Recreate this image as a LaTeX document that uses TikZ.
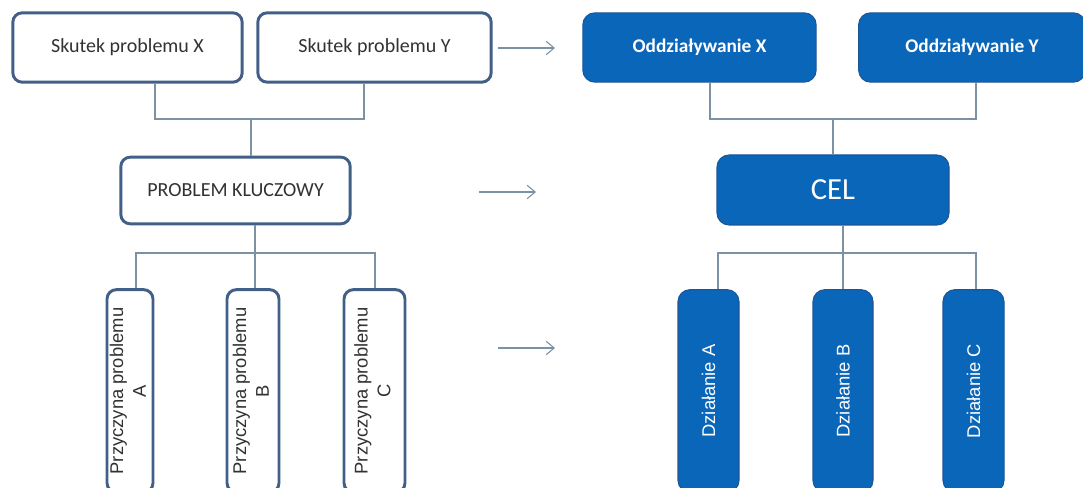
\documentclass[tikz,border=0pt]{standalone}
\usepackage{fontspec}
\usepackage{graphicx}
\setmainfont{Carlito}
\newfontfamily\arialf{Liberation Sans}
\usetikzlibrary{arrows.meta}
\definecolor{ramka}{RGB}{65,95,135}
\definecolor{niebieski}{RGB}{10,102,184}
\definecolor{niebieskiram}{RGB}{30,85,150}
\definecolor{linia}{RGB}{125,145,165}
\definecolor{tekst}{RGB}{50,50,50}
\begin{document}
\begin{tikzpicture}[x=0.75pt,y=-0.75pt,
  problem/.style={draw=ramka,line width=2.2pt,rounded corners=7pt,fill=white,
    inner sep=0pt,text=tekst,font=\fontsize{15}{17}\selectfont},
  cel/.style={draw=niebieskiram,line width=0.8pt,rounded corners=9pt,fill=niebieski,
    inner sep=0pt,text=white,font=\fontsize{14.5}{17}\selectfont\bfseries},
  pion/.style={minimum height=152pt,font=\arialf\fontsize{13.8}{17}\selectfont},
  link/.style={draw=linia,line width=0.8pt},
  arr/.style={draw=linia,line width=0.8pt,-{Straight Barb[length=6pt,width=10pt]}}]
  \useasboundingbox (0,0) rectangle (1083,488);
  \clip (0,0) rectangle (1083,488);
  % lewa strona: drzewo problemow
  \node[problem,minimum width=172pt,minimum height=52pt] (sx) at (127.5,47.5) {Skutek problemu X};
  \node[problem,minimum width=175pt,minimum height=52pt] (sy) at (374.5,47.5) {Skutek problemu Y};
  \node[problem,minimum width=172pt,minimum height=50pt] (pk) at (235.5,190.5) {PROBLEM KLUCZOWY};
  \node[problem,pion,minimum width=34.5pt] (pa) at (130,391) {\rotatebox{90}{\begin{tabular}{@{}c@{}}Przyczyna problemu\\A\end{tabular}}};
  \node[problem,pion,minimum width=39pt] (pb) at (253,391) {\rotatebox{90}{\begin{tabular}{@{}c@{}}Przyczyna problemu\\B\end{tabular}}};
  \node[problem,pion,minimum width=45.75pt] (pc) at (374.5,391) {\rotatebox{90}{\begin{tabular}{@{}c@{}}Przyczyna problemu\\C\end{tabular}}};
  \coordinate (j1) at (251,119);
  \coordinate (j2) at (255,253);
  \draw[link] (sx.south -| 155,0) |- (j1) -| (sy.south -| 364,0);
  \draw[link] (j1) -- (pk.north -| j1);
  \draw[link] (pk.south -| j2) -- (pb.north -| j2);
  \draw[link] (pa.north -| 136,0) |- (j2) -| (pc.north -| 375,0);

  % strzalki
  \draw[arr] (498,48) -- (555,48);
  \draw[arr] (479,192) -- (536,192);
  \draw[arr] (498,348) -- (555,348);

  % prawa strona: drzewo celow
  \node[cel,minimum width=175pt,minimum height=52pt] (ox) at (699.5,47.5) {Oddziaływanie X};
  \node[cel,minimum width=170pt,minimum height=52pt] (oy) at (972,47.5) {Oddziaływanie Y};
  \node[cel,minimum width=174pt,minimum height=52.5pt,font=\fontsize{23}{26}\selectfont] (c) at (833,190) {CEL};
  \node[cel,pion,minimum width=45.75pt] (da) at (708.5,391) {\rotatebox{90}{Działanie A}};
  \node[cel,pion,minimum width=45pt] (db) at (843,391) {\rotatebox{90}{Działanie B}};
  \node[cel,pion,minimum width=45.75pt] (dc) at (973.5,391) {\rotatebox{90}{Działanie C}};
  \coordinate (j3) at (833,119);
  \coordinate (j4) at (843,253);
  \draw[link] (ox.south -| 710,0) |- (j3) -| (oy.south -| 976,0);
  \draw[link] (j3) -- (c.north -| j3);
  \draw[link] (c.south -| j4) -- (db.north -| j4);
  \draw[link] (da.north -| 718,0) |- (j4) -| (dc.north -| 976,0);
\end{tikzpicture}
\end{document}
